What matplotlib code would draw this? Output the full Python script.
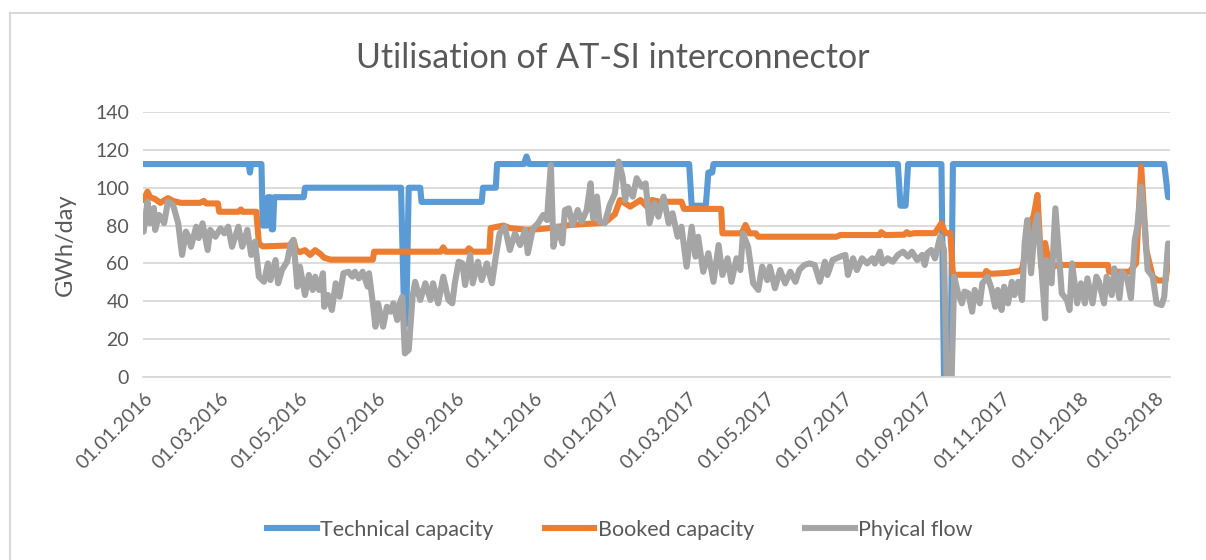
import matplotlib
matplotlib.use("Agg")
import matplotlib.pyplot as plt
import matplotlib.dates as mdates
from matplotlib.lines import Line2D
import pandas as pd

plt.rcParams["font.family"] = ["Lato", "DejaVu Sans"]

START = pd.Timestamp("2016-01-01")

# Technical capacity (GWh/day), day offsets from 01.01.2016
tech_days = [0, 82, 83, 84, 92, 93, 96, 97, 99, 100, 101, 102, 125, 126,
             201, 203, 205, 207, 216, 217, 264, 265, 275, 276, 297, 299, 301,
             426, 428, 439, 441, 444, 445, 589, 591, 595, 597, 623, 625, 630, 632,
             797, 800, 801]
tech_vals = [112.5, 112.5, 108, 112.5, 112.5, 80, 80, 95, 95, 78, 78, 95, 95, 100,
             100, 45, 28, 100, 100, 92.5, 92.5, 100, 100, 112.5, 112.5, 116.5, 112.5,
             112.5, 90.5, 90.5, 108, 108, 112.5, 112.5, 90.5, 90.5, 112.5, 112.5, 0, 0, 112.5,
             112.5, 95, 95]

# Booked capacity (GWh/day)
booked_days = [0, 3, 5, 9, 13, 19, 23, 29, 44, 47, 49, 58, 59, 74, 76, 77, 88, 90, 93,
               115, 117, 119, 122, 126, 130, 134, 138, 141, 146, 179, 180, 232, 234, 236,
               252, 254, 257, 270, 271, 281, 286, 300, 315, 333, 360, 368, 372, 380, 388,
               393, 397, 403, 420, 422, 451, 452, 467, 470, 473, 478, 480, 541, 544, 575,
               576, 579, 594, 596, 598, 602, 618, 623, 626, 630, 632, 657, 658, 661, 674,
               684, 686, 690, 692, 695, 698, 701, 704, 706, 710, 714, 753, 754, 770, 775,
               779, 783, 788, 792, 798, 801]
booked_vals = [93.5, 97.9, 95, 94, 92, 94.5, 93, 92, 92, 93, 91.7, 91.7, 87.3, 87.3, 88.5,
               87.3, 87.3, 70.5, 69, 69.5, 72.4, 67, 66, 67, 64.5, 67, 65, 63, 62, 62, 66.2,
               66.2, 68.5, 66.2, 66.2, 68, 66.2, 66.2, 78.7, 80, 78.7, 77.7, 78.5, 80.3, 81.5,
               86, 93.5, 90, 93.5, 90, 93.5, 92.6, 92.6, 88.8, 88.8, 75.9, 75.9, 80.3, 75.9,
               75.9, 74.1, 74.1, 75, 75, 76.5, 75, 75.2, 76.5, 75.5, 76, 76, 81.3, 76, 76, 54,
               54, 56, 54.5, 55, 56, 57, 70.8, 81.3, 85, 96.2, 58.3, 70.8, 63.6, 58.3, 59.2,
               59.2, 55.6, 55.6, 60, 111, 67.1, 53, 51, 51, 65.5]

# Physical flow (GWh/day)
flow_days = [0, 3, 5, 8, 9, 12, 14, 16, 19, 23, 27, 30, 33, 35, 37, 41, 43, 46, 50, 52,
             56, 60, 63, 66, 69, 74, 77, 81, 84, 87, 90, 94, 97, 99, 103, 105, 108, 112,
             115, 117, 120, 122, 126, 129, 132, 134, 137, 140, 141, 144, 147, 150, 153,
             156, 160, 163, 165, 168, 171, 175, 176, 179, 181, 183, 187, 190, 193, 195,
             198, 200, 202, 204, 207, 210, 212, 216, 220, 224, 226, 230, 234, 238, 241,
             243, 246, 249, 251, 255, 257, 261, 264, 268, 272, 275, 278, 282, 286, 290,
             294, 298, 300, 304, 308, 312, 315, 316, 318, 320, 323, 327, 329, 332, 335,
             339, 342, 346, 349, 351, 354, 356, 360, 364, 368, 371, 374, 376, 378, 382,
             385, 389, 392, 395, 399, 402, 406, 410, 413, 417, 420, 424, 428, 431, 433,
             437, 441, 445, 449, 452, 456, 459, 463, 466, 468, 472, 476, 480, 483, 487,
             489, 493, 497, 501, 505, 509, 512, 516, 520, 524, 528, 532, 534, 538, 544,
             548, 550, 554, 557, 561, 565, 569, 571, 575, 577, 581, 585, 589, 593, 597,
             600, 604, 608, 610, 612, 615, 618, 622, 625, 627, 631, 633, 636, 639, 641,
             644, 647, 649, 653, 655, 659, 662, 665, 667, 670, 672, 675, 678, 680, 683,
             686, 688, 690, 693, 696, 698, 701, 704, 705, 709, 712, 715, 717, 721, 723,
             725, 729, 732, 735, 737, 741, 744, 746, 750, 752, 756, 758, 762, 764, 768,
             771, 774, 776, 779, 782, 784, 788, 791, 795, 797, 800, 801]
flow_vals = [76.8, 92.6, 81.3, 89.3, 77.7, 85.6, 84, 81.3, 92.6, 90.9, 81.2, 64.5, 76.8,
             74.1, 68.8, 79.4, 73.4, 81.2, 67.1, 77.7, 74.1, 78.5, 75.9, 79.4, 68.8, 79.4,
             68.8, 77.7, 64.5, 71.5, 53, 50.3, 60, 51.2, 61.8, 49.5, 56.5, 60.9, 70.6, 72.4,
             47.7, 58.3, 43.3, 53.9, 46, 53, 46, 54.8, 37.1, 43.3, 35.4, 49.5, 42.4, 54.8,
             55.6, 53, 55.6, 52.1, 55.6, 47.7, 54.8, 38.9, 26.6, 38.9, 26.6, 37.1, 34.5,
             38.9, 30.1, 38.9, 42.4, 12.5, 14.3, 42.4, 50.3, 40.7, 49.5, 40.7, 49.5, 38.9,
             53, 40.7, 38.9, 49.5, 60.9, 60, 48.6, 64.5, 49.5, 60.9, 51.2, 60, 49.5, 63.6,
             75.9, 79.4, 67.1, 75.9, 69.7, 77.7, 65.4, 78.5, 81.2, 85.6, 82.9, 93.5, 112,
             68.8, 79.4, 70.6, 88.2, 89.1, 80.3, 88.2, 82, 88.2, 102.3, 83.8, 95.3, 82,
             81.2, 90.9, 97, 113.8, 105.8, 93.5, 100.5, 95.3, 105, 100.5, 102.3, 81.2, 91.8,
             84.7, 95.3, 81.2, 86.5, 74.1, 79.4, 58.3, 79.4, 63.6, 74.1, 55.6, 65.4, 50.3,
             69.7, 53.9, 62.7, 50.3, 62.7, 56.5, 75.9, 68.8, 49.5, 46, 58.3, 51.2, 58.3,
             46.9, 56.5, 49.5, 55.6, 50.3, 56.5, 59.2, 60, 59.2, 50.3, 60.9, 53.9, 61.8,
             63.6, 64.5, 53.9, 62.7, 56.5, 62.7, 60, 62.7, 60, 66.2, 60, 62.7, 60.9, 64.5,
             66.2, 63.6, 66.2, 61.8, 64.5, 59.2, 65.4, 67.1, 62.7, 74.1, 67.1, 0, 0, 53,
             44.2, 38.9, 45.1, 44.2, 34.5, 46, 38.9, 49.5, 53, 46.9, 37.1, 46, 35.4, 47.7,
             38.9, 50.3, 43.3, 50.3, 40.7, 70.6, 82.9, 54.8, 79.4, 85.6, 58.3, 31, 61.8,
             49.5, 89.1, 61.8, 44.2, 40.7, 35.4, 60, 38.9, 49.5, 38.9, 52.1, 38.9, 53, 50.3,
             38.9, 53, 43.3, 57.4, 41.6, 55.6, 52.1, 41.6, 72.4, 79.4, 100.5, 77.7, 56.5,
             53, 38.9, 38, 42.4, 70.6, 67.1]

series_names = ["Technical capacity", "Booked capacity", "Phyical flow"]
series_colors = ["#5B9BD5", "#ED7D31", "#A5A5A5"]
y_ticks = [0, 20, 40, 60, 80, 100, 120, 140]


def to_dates(days):
    return START + pd.to_timedelta(days, unit="D")


fig = plt.figure(figsize=(12.06, 5.6), dpi=100)
ax = fig.add_axes([143 / 1206, 1 - 377 / 560, (1170 - 143) / 1206, (377 - 112) / 560])

lw = 4.4
for days, vals, name, color in zip(
    [tech_days, booked_days, flow_days],
    [tech_vals, booked_vals, flow_vals],
    series_names, series_colors,
):
    ax.plot(to_dates(days), vals, color=color, lw=lw, label=name,
            solid_joinstyle="round", solid_capstyle="round")

ax.set_ylim(0, 140)
ax.set_yticks(y_ticks)
ax.set_xlim(START - pd.Timedelta(days=0.5), to_dates([801])[0] + pd.Timedelta(days=0.5))
ax.xaxis.set_major_locator(mdates.MonthLocator(bymonth=[1, 3, 5, 7, 9, 11]))
ax.xaxis.set_major_formatter(mdates.DateFormatter("%d.%m.%Y"))

ax.grid(axis="y", color="#D9D9D9", lw=1.3)
ax.set_axisbelow(True)
for side in ["top", "right", "left"]:
    ax.spines[side].set_visible(False)
ax.spines["bottom"].set_color("#D9D9D9")
ax.spines["bottom"].set_linewidth(1.3)
ax.tick_params(axis="both", length=0, labelsize=14, colors="#595959")
ax.tick_params(axis="y", pad=10)
ax.tick_params(axis="x", pad=9)
for lab in ax.get_xticklabels():
    lab.set_rotation(45)
    lab.set_ha("right")
    lab.set_va("top")
    lab.set_rotation_mode("anchor")

ax.set_ylabel("GWh/day", fontsize=17, color="#595959", labelpad=14)

fig.text(0.508, 0.896, "Utilisation of AT-SI interconnector", ha="center", va="center",
         fontsize=24.5, color="#595959")

handles = [Line2D([], [], color=c, lw=lw) for c in series_colors]
fig.legend(handles, series_names, loc="center", bbox_to_anchor=(0.514, 1 - 530 / 560),
           ncol=3, frameon=False, fontsize=15.5, labelcolor="#595959",
           handlelength=2.3, handletextpad=0.15, columnspacing=2.4)

# chart area border
fig.add_artist(Line2D([10 / 1206, 1], [1 - 13 / 560, 1 - 13 / 560], color="#D9D9D9", lw=1.5))
fig.add_artist(Line2D([10 / 1206, 10 / 1206], [0, 1 - 13 / 560], color="#D9D9D9", lw=1.5))

fig.savefig("out.png", dpi=100)
